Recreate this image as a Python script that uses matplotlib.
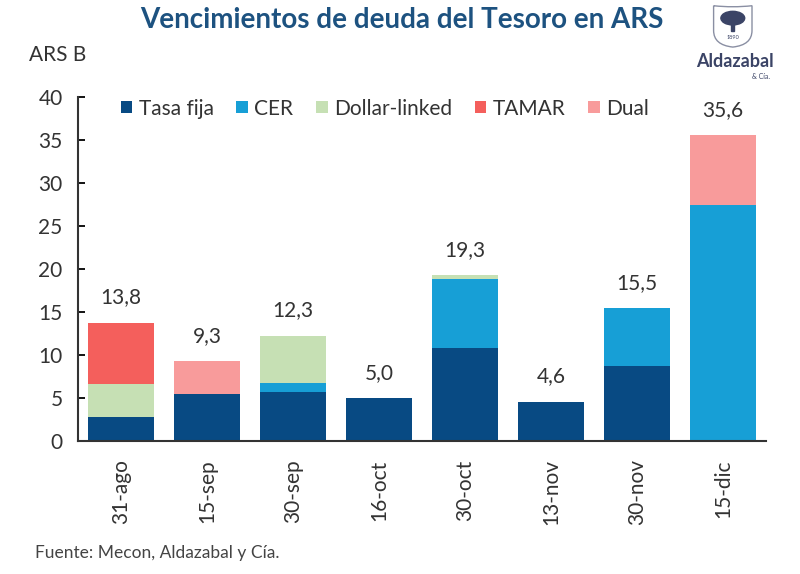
import numpy as np
import matplotlib.pyplot as plt
from matplotlib.patches import PathPatch, Ellipse, Rectangle
from matplotlib.path import Path

# vencimientos por fecha, miles de millones ARS
fechas = ["31-ago", "15-sep", "30-sep", "16-oct", "30-oct", "13-nov", "30-nov", "15-dic"]
tasa_fija = [2.8, 5.5, 5.7, 5.0, 10.8, 4.6, 8.7, 0.0]
cer = [0.0, 0.0, 1.1, 0.0, 8.1, 0.0, 6.8, 27.4]
dollar_linked = [3.9, 0.0, 5.5, 0.0, 0.4, 0.0, 0.0, 0.0]
tamar = [7.1, 0.0, 0.0, 0.0, 0.0, 0.0, 0.0, 0.0]
dual = [0.0, 3.8, 0.0, 0.0, 0.0, 0.0, 0.0, 8.2]
totales = [13.8, 9.3, 12.3, 5.0, 19.3, 4.6, 15.5, 35.6]

series = [
    ("Tasa fija", tasa_fija, "#084a83"),
    ("CER", cer, "#179fd6"),
    ("Dollar-linked", dollar_linked, "#c6e0b4"),
    ("TAMAR", tamar, "#f45f5c"),
    ("Dual", dual, "#f89b9b"),
]

plt.rcParams["font.family"] = ["Lato", "DejaVu Sans"]

fig = plt.figure(figsize=(8, 5.74), dpi=100)
ax = fig.add_axes([0.0975, 0.231, 0.86, 0.600])

x = np.arange(len(fechas))
bottom = np.zeros(len(fechas))
for nombre, vals, color in series:
    vals = np.array(vals)
    ax.bar(x, vals, 0.77, bottom=bottom, color=color, label=nombre)
    bottom += vals

for xi, tot in zip(x, totales):
    ax.annotate(f"{tot:.1f}".replace(".", ","), (xi, tot), xytext=(0, 11),
                textcoords="offset points", ha="center", va="bottom",
                fontsize=15, color="#333333")

ax.set_xlim(-0.5, len(fechas) - 0.5)
ax.set_ylim(0, 40)
ax.set_yticks(range(0, 41, 5))
ax.set_xticks(x)
ax.set_xticklabels(fechas, rotation=90, fontsize=15, color="#333333")
ax.tick_params(axis="x", length=0, pad=13)
ax.tick_params(axis="y", direction="in", length=5, width=1.3, labelsize=15,
               labelcolor="#333333", pad=11)
for s in ["top", "right"]:
    ax.spines[s].set_visible(False)
for s in ["left", "bottom"]:
    ax.spines[s].set_linewidth(1.5)
    ax.spines[s].set_color("#333333")

ax.legend(loc="upper left", bbox_to_anchor=(0.035, 1.05), ncol=5, frameon=False,
          fontsize=15, handlelength=0.55, handleheight=0.55, handletextpad=0.3,
          columnspacing=1.1, labelcolor="#333333")

fig.text(0.502, 0.965, "Vencimientos de deuda del Tesoro en ARS", ha="center",
         va="center", fontsize=20, fontweight="bold", color="#1d5280")
fig.text(0.036, 0.905, "ARS B", ha="left", va="center", fontsize=15, color="#333333")
fig.text(0.044, 0.037, "Fuente: Mecon, Aldazabal y Cía.", ha="left", va="center",
         fontsize=12.5, color="#444444")

# logo: escudo simple + texto
cx, top_y, w, h = 0.916, 0.99, 0.048, 0.072
verts = [(cx - w / 2, top_y), (cx - w / 2, top_y - h * 0.6),
         (cx - w / 2, top_y - h * 0.95), (cx, top_y - h),
         (cx + w / 2, top_y - h * 0.95), (cx + w / 2, top_y - h * 0.6),
         (cx + w / 2, top_y), (cx, top_y - h * 0.05), (cx - w / 2, top_y)]
codes = [Path.MOVETO, Path.LINETO, Path.CURVE3, Path.CURVE3, Path.CURVE3, Path.CURVE3,
         Path.LINETO, Path.CURVE3, Path.CURVE3]
fig.patches.append(PathPatch(Path(verts, codes), transform=fig.transFigure,
                             fill=False, edgecolor="#8a8fa3", linewidth=1))
fig.patches.append(Ellipse((cx, top_y - h * 0.3), w * 0.62, h * 0.33,
                           transform=fig.transFigure, color="#3b4466"))
fig.patches.append(Rectangle((cx - 0.002, top_y - h * 0.62), 0.004, h * 0.2,
                             transform=fig.transFigure, color="#3b4466"))
fig.text(cx, top_y - h * 0.76, "1890", ha="center", va="center", fontsize=4,
         color="#3b4466")
fig.text(0.919, 0.893, "Aldazabal", ha="center", va="center", fontsize=13,
         fontweight="bold", color="#3b4466")
fig.text(0.962, 0.866, "& Cía.", ha="right", va="center", fontsize=5, color="#3b4466")

fig.savefig("out.png", dpi=100)
